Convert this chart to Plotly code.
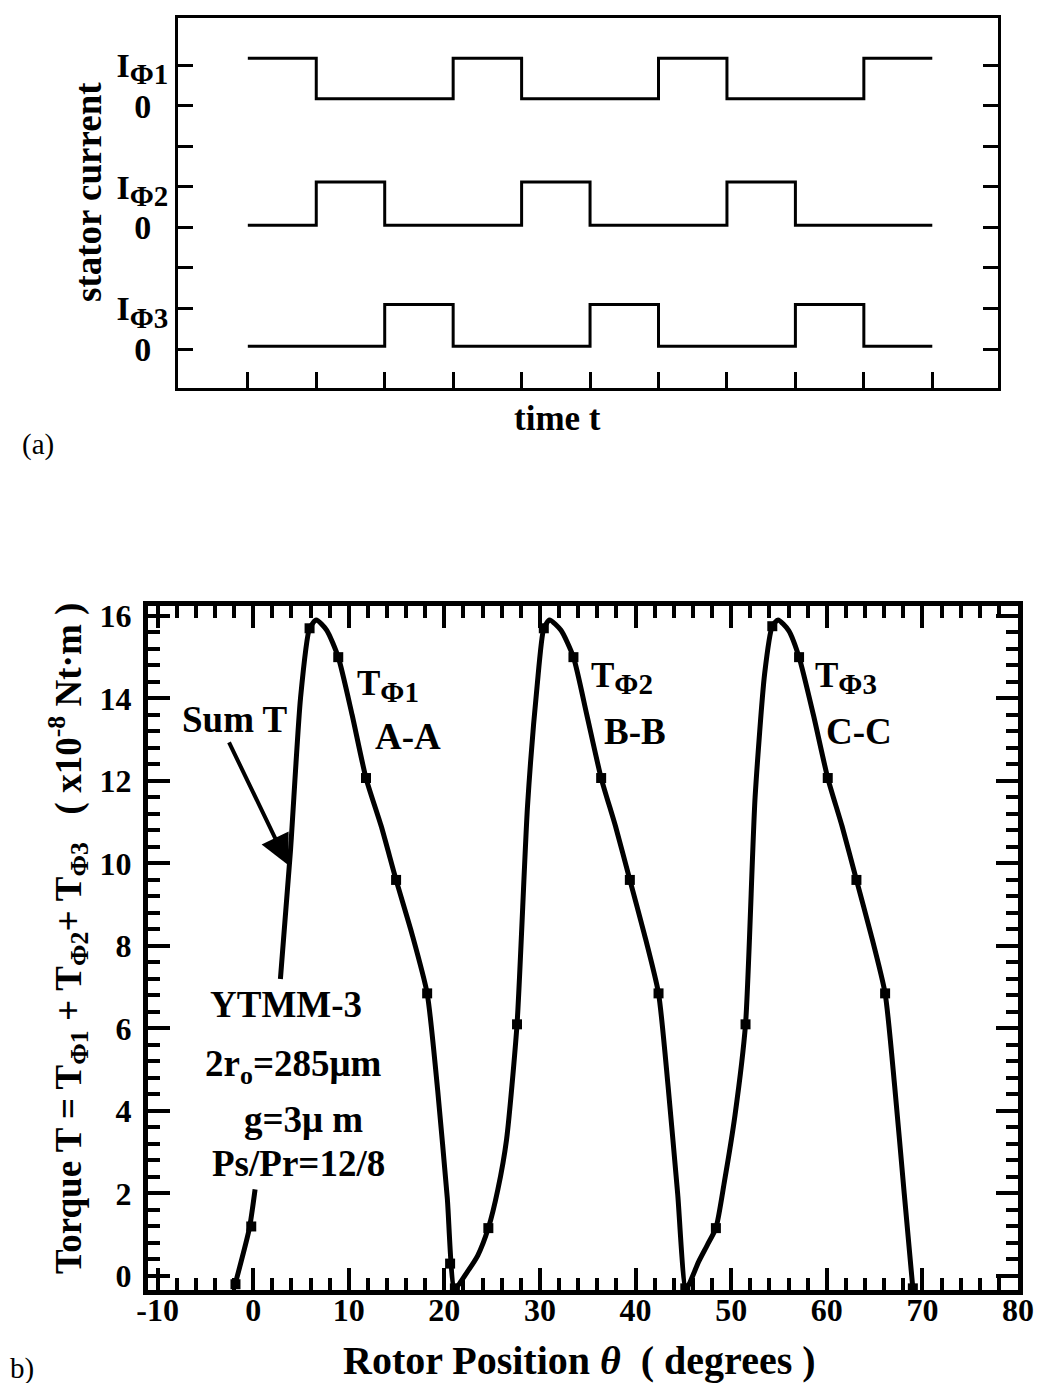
import plotly.graph_objects as go

W, H = 1045, 1383
FONT = "Liberation Serif"

# ---------------- panel (a): stator current waveforms ----------------
time_edges = [0, 1, 2, 3, 4, 5, 6, 7, 8, 9, 10]
phase1_state = [1, 0, 0, 1, 0, 0, 1, 0, 0, 1]
phase2_state = [0, 1, 0, 0, 1, 0, 0, 1, 0, 0]
phase3_state = [0, 0, 1, 0, 0, 1, 0, 0, 1, 0]
phase1_levels = (6.17, 7.17)   # (zero level, on level)
phase2_levels = (3.05, 4.12)
phase3_levels = (0.07, 1.1)
a_ytick_vals = [0, 1, 2, 3, 4, 5, 6, 7]
SUBA = "<span style='font-size:29px'>"
a_ytick_text = ["0\u00a0\u00a0", "I<sub>" + SUBA + "Φ3</span></sub>", "", "0\u00a0\u00a0",
                "I<sub>" + SUBA + "Φ2</span></sub>", "", "0\u00a0\u00a0", "I<sub>" + SUBA + "Φ1</span></sub>"]

# ---------------- panel (b): torque vs rotor position ----------------
theta = [-2.0, -0.4, 0.2, None,
         2.85, 3.9, 4.95, 5.9, 6.6, 7.7, 8.9, 10.35, 11.8, 13.4, 14.95, 16.6, 18.2, 19.3, 20.3, 21.1,
         22.4, 23.5, 24.6, 25.6, 26.5, 27.6, 28.7, 29.7, 30.4, 31.0, 32.2, 33.5, 34.9, 36.4, 37.9,
         39.4, 40.9, 42.4, 43.4, 44.4, 45.3,
         46.6, 47.5, 48.4, 49.3, 50.4, 51.5, 52.5, 53.5, 54.3, 54.9, 56.0, 57.1, 58.6, 60.1, 61.6,
         63.1, 64.6, 66.1, 67.1, 68.1, 69.0]
torque = [-0.3, 1.15, 2.1, None,
          7.2, 10.3, 14.0, 15.7, 15.9, 15.65, 15.0, 13.6, 12.07, 10.9, 9.6, 8.3, 6.85, 4.5, 1.9, -0.3,
          0.1, 0.5, 1.16, 2.1, 3.3, 6.1, 11.4, 14.3, 15.7, 15.9, 15.65, 15.0, 13.6, 12.07, 10.9,
          9.6, 8.3, 6.85, 4.6, 2.0, -0.3,
          0.35, 0.75, 1.16, 2.3, 3.9, 6.1, 11.6, 14.6, 15.75, 15.9, 15.65, 15.0, 13.6, 12.07, 10.9,
          9.6, 8.3, 6.85, 4.6, 2.0, -0.3]
marker_theta = [-1.85, -0.2, 5.9, 8.9, 11.8, 14.95, 18.2, 20.6, 21.1,
                24.6, 27.6, 30.4, 33.5, 36.4, 39.4, 42.4, 45.2,
                48.4, 51.5, 54.3, 57.1, 60.1, 63.1, 66.1, 69.0]
marker_torque = [-0.2, 1.2, 15.7, 15.0, 12.07, 9.6, 6.85, 0.3, -0.3,
                 1.16, 6.1, 15.7, 15.0, 12.07, 9.6, 6.85, -0.3,
                 1.16, 6.1, 15.75, 15.0, 12.07, 9.6, 6.85, -0.3]
b_xtick_vals = [-10, 0, 10, 20, 30, 40, 50, 60, 70, 80]
b_xtick_text = ["-10", "0", "10", "20", "30", "40", "50", "60", "70", "80"]


def px(x):
    return x / W


def py(y):
    return 1 - y / H


def steps(state, levels):
    lo, hi = levels
    ys = [lo + s * (hi - lo) for s in state]
    return ys + [ys[-1]]


fig = go.Figure()
for st, lv in [(phase1_state, phase1_levels), (phase2_state, phase2_levels), (phase3_state, phase3_levels)]:
    fig.add_trace(go.Scatter(x=time_edges, y=steps(st, lv), mode="lines", line_shape="hv",
                             line=dict(color="black", width=3), xaxis="x", yaxis="y",
                             showlegend=False, hoverinfo="skip"))

fig.add_trace(go.Scatter(x=theta, y=torque, mode="lines",
                         line=dict(color="black", width=5, shape="spline", smoothing=0.6),
                         connectgaps=False, xaxis="x2", yaxis="y2", showlegend=False))
fig.add_trace(go.Scatter(x=marker_theta, y=marker_torque, mode="markers",
                         marker=dict(symbol="square", size=10, color="black"),
                         xaxis="x2", yaxis="y2", showlegend=False))

tickfont_a = dict(family=FONT, size=34, color="black", weight="bold")
tickfont_b = dict(family=FONT, size=32, color="black", weight="bold")

fig.update_layout(
    width=W, height=H, template="none",
    paper_bgcolor="white", plot_bgcolor="white",
    margin=dict(l=0, r=0, t=0, b=0),
    showlegend=False,
    font=dict(family=FONT, color="black"),
    xaxis=dict(domain=[px(170), px(990)], range=[-1.02, 10.96], anchor="y",
               showgrid=False, zeroline=False, showline=True, linecolor="black", linewidth=3,
               mirror=True, ticks="inside", tickvals=time_edges, ticklen=16, tickwidth=3,
               tickcolor="black", showticklabels=False),
    yaxis=dict(domain=[py(380), py(10)], range=[-0.96, 8.16], anchor="x",
               showgrid=False, zeroline=False, showline=True, linecolor="black", linewidth=3,
               mirror="ticks", ticks="inside", tickvals=a_ytick_vals, ticktext=a_ytick_text,
               ticklen=15, tickwidth=3, tickcolor="black", tickfont=tickfont_a),
    xaxis2=dict(domain=[px(140), px(1010)], range=[-11, 80], anchor="y2",
                showgrid=False, zeroline=False, showline=True, linecolor="black", linewidth=5,
                mirror="ticks", ticks="inside", tickvals=b_xtick_vals, ticktext=b_xtick_text,
                ticklen=22, tickwidth=4, ticklabelstandoff=-12,
                tickcolor="black", tickfont=tickfont_b,
                minor=dict(tick0=0, dtick=2, ticklen=12, tickwidth=4, ticks="inside", tickcolor="black", showgrid=False)),
    yaxis2=dict(domain=[py(1282), py(598)], range=[-0.34, 16.24], anchor="x2",
                showgrid=False, zeroline=False, showline=True, linecolor="black", linewidth=5,
                mirror="ticks", ticks="inside", tick0=0, dtick=2, ticklen=22, tickwidth=4,
                ticklabelstandoff=5,
                tickcolor="black", tickfont=tickfont_b,
                minor=dict(tick0=0, dtick=0.4, ticklen=12, tickwidth=4, ticks="inside", tickcolor="black", showgrid=False)),
)

bold = dict(family=FONT, size=35, color="black", weight="bold")
big = dict(family=FONT, size=37, color="black", weight="bold")
SUBB = "<span style='font-size:29px'>"


def note(text, x, y, font, **kw):
    fig.add_annotation(text=text, x=px(x), y=py(y), xref="paper", yref="paper",
                       xanchor=kw.pop("xanchor", "center"), yanchor="middle",
                       showarrow=False, font=font, **kw)


# panel (a) labels
note("time t", 549, 410, bold)
note("stator current", 80, 184, dict(family=FONT, size=37, color="black", weight="bold"), textangle=-90)
note("(a)", 30, 436, dict(family=FONT, size=29, color="black"))

# panel (b) labels
note("Rotor Position <i>θ</i>\u00a0\u00a0( degrees )", 571, 1352,
     dict(family=FONT, size=40, color="black", weight="bold"))
note("Torque T = T<sub>Φ1</sub> + T<sub>Φ2</sub>+ T<sub>Φ3</sub>\u00a0\u00a0\u00a0( x10<sup>-8</sup> Nt·m )",
     60, 931, dict(family=FONT, size=37, color="black", weight="bold"), textangle=-90)
note("b)", 0, 1360, dict(family=FONT, size=29, color="black"), xanchor="left")

note("Sum T", 227, 711, big)
note("T<sub>" + SUBB + "Φ1</span></sub>", 380, 678, dict(family=FONT, size=35, color="black", weight="bold"))
note("A-A", 400, 728, big)
note("T<sub>" + SUBB + "Φ2</span></sub>", 614, 670, dict(family=FONT, size=35, color="black", weight="bold"))
note("B-B", 627, 723, big)
note("T<sub>" + SUBB + "Φ3</span></sub>", 838, 670, dict(family=FONT, size=35, color="black", weight="bold"))
note("C-C", 851, 723, big)
note("YTMM-3", 278, 996, big)
note("2r<sub>o</sub>=285μm", 285, 1058, big)
note("g=3μ m", 295, 1111, big)
note("Ps/Pr=12/8", 290, 1155, big)

# arrow pointing at the Sum T curve
fig.add_annotation(x=3.66, y=9.96, ax=-2.6, ay=12.97, xref="x2", yref="y2", axref="x2", ayref="y2",
                   showarrow=True, arrowhead=2, arrowsize=1.5, arrowwidth=4, arrowcolor="black", text="")

fig.write_html("out.html")
